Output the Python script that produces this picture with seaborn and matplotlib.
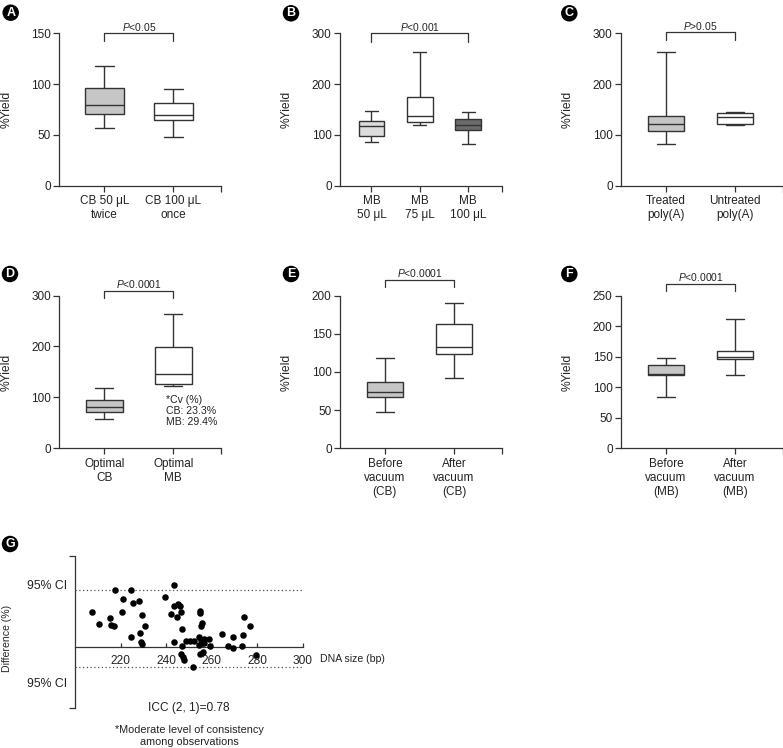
import matplotlib
matplotlib.use("Agg")
import matplotlib.pyplot as plt
import matplotlib.transforms as mtrans
import pandas as pd
import seaborn as sns

# Box data as five-number summaries: min, q1, median, q3, max
a_groups = ["CB 50 μL\ntwice", "CB 100 μL\nonce"]
a_cb50_twice = [56.4, 70.2, 79.4, 96.2, 117.5]
a_cb100_once = [47.6, 64.3, 69.9, 81.1, 94.8]

b_groups = ["MB\n50 μL", "MB\n75 μL", "MB\n100 μL"]
b_mb50 = [86.7, 97.8, 118.0, 128.0, 147.0]
b_mb75 = [119.5, 126.0, 137.9, 175.3, 262.6]
b_mb100 = [81.4, 109.6, 119.5, 130.6, 145.8]

c_groups = ["Treated\npoly(A)", "Untreated\npoly(A)"]
c_treated = [82.0, 108.3, 122.0, 136.5, 262.6]
c_untreated = [119.5, 121.4, 135.9, 143.8, 145.7]

d_groups = ["Optimal\nCB", "Optimal\nMB"]
d_cb = [57.0, 71.4, 80.6, 95.6, 117.9]
d_mb = [121.8, 127.1, 146.7, 199.8, 263.3]

e_groups = ["Before\nvacuum\n(CB)", "After\nvacuum\n(CB)"]
e_before = [47.5, 67.5, 74.1, 87.1, 117.6]
e_after = [91.9, 122.9, 132.9, 163.0, 190.8]

f_groups = ["Before\nvacuum\n(MB)", "After\nvacuum\n(MB)"]
f_before = [83.3, 119.3, 120.9, 135.6, 147.6]
f_after = [119.8, 146.5, 149.8, 159.0, 211.3]

# Panel G: DNA size (bp) vs difference (%)
g_size = [207.6, 210.6, 215.4, 215.8, 217.1, 217.5, 220.4, 221.0, 224.5, 224.5,
          225.5, 228.0, 229.5, 228.6, 228.9, 229.2, 230.9, 239.5, 243.5, 241.9,
          243.6, 245.0, 246.2, 246.4, 244.8, 247.0, 243.5, 247.1, 248.9, 250.6,
          252.0, 246.5, 247.7, 247.3, 251.8, 254.7, 254.7, 255.5, 255.3, 254.4,
          255.3, 256.4, 258.6, 256.7, 255.8, 254.5, 259.3, 254.7, 256.2, 264.4,
          269.3, 267.3, 269.3, 273.2, 273.9, 274.1, 276.8, 279.5]
g_diff = [12.3, 7.9, 10.2, 7.8, 7.3, 19.9, 12.3, 17.0, 19.9, 3.5,
          15.4, 16.0, 11.1, 4.8, 1.7, 1.0, 7.4, 17.5, 21.9, 11.7,
          14.3, 15.0, 14.2, 12.4, 10.6, 6.3, 1.5, 0.35, 2.0, 2.1,
          1.8, -2.7, -4.6, -3.7, -7.4, 12.7, 11.8, 8.3, 7.4, 3.5,
          2.4, 2.6, 2.6, 1.2, 1.2, 0.6, 0.35, -2.7, -1.8, 4.6,
          3.5, 0.35, -0.6, 0.35, 4.1, 10.5, 7.3, -2.9]
g_ci_upper = 20.0
g_ci_lower = -7.2

EDGE = "#333333"
GRAY = "#c6c6c6"

sns.set_style("ticks")
plt.rcParams['font.family'] = ['Liberation Sans', 'DejaVu Sans']
plt.rcParams['mathtext.fontset'] = 'custom'
plt.rcParams['mathtext.it'] = 'Liberation Sans:italic'
plt.rcParams['mathtext.rm'] = 'Liberation Sans'
plt.rcParams['text.color'] = '#222222'


def draw_box_panel(ax, groups, values, colors, ymax, ystep, bracket, ptext, span=None, width=0.53):
    df = pd.DataFrame({
        'group': [g for g, v in zip(groups, values) for _ in v],
        'value': [x for v in values for x in v],
    })
    sns.boxplot(data=df, x='group', y='value', hue='group', order=groups, hue_order=groups,
                palette=colors, whis=(0, 100), width=width, linecolor=EDGE, linewidth=1.0,
                legend=False, ax=ax)
    n = len(groups)
    right = n - 1 + 0.69
    ax.set_xlim(-0.65, right)
    ax.set_ylim(0, ymax)
    ax.set_yticks(range(0, ymax + 1, ystep))
    ax.set_xticks([right], minor=True)
    ax.set_xlabel("")
    ax.set_ylabel("%Yield", fontsize=8.7)
    ax.yaxis.set_label_coords(-0.29, 0.5)
    sns.despine(ax=ax)
    for s in ['left', 'bottom']:
        ax.spines[s].set_color(EDGE)
        ax.spines[s].set_linewidth(0.9)
    ax.tick_params(which='both', direction='out', length=4, width=0.9, color=EDGE,
                   labelsize=8.5, labelcolor='#222222', pad=2)
    ax.tick_params(axis='x', pad=3)
    # significance bracket
    x0, x1 = span if span else (0, n - 1)
    top, leg = bracket
    ax.plot([x0, x0, x1, x1], [leg, top, top, leg], color=EDGE, lw=0.9, clip_on=False)
    ax.annotate(ptext, ((x0 + x1) / 2, top), xytext=(0, 2), textcoords='offset points',
                ha='center', va='baseline', fontsize=7.4, annotation_clip=False)


fig = plt.figure(figsize=(7.83, 7.48), dpi=100)
W, H = 783.0, 748.0


def add_axes(x0, x1, ytop, ybot):
    return fig.add_axes([x0 / W, 1 - ybot / H, (x1 - x0) / W, (ybot - ytop) / H])


axA = add_axes(59.3, 221, 33.3, 185.7)
axB = add_axes(340, 501.7, 33.3, 185.7)
axC = add_axes(621, 782.7, 33.3, 185.7)
axD = add_axes(59.3, 221, 295.5, 448.3)
axE = add_axes(340, 501.7, 295.5, 448.3)
axF = add_axes(621, 782.7, 295.5, 448.3)
axG = add_axes(75, 303, 555.7, 708.3)

draw_box_panel(axA, a_groups, [a_cb50_twice, a_cb100_once], [GRAY, 'white'],
               150, 50, (150, 142.8), "$P$<0.05", width=0.56)
draw_box_panel(axB, b_groups, [b_mb50, b_mb75, b_mb100], ['#dcdcdc', 'white', '#6b6b6b'],
               300, 100, (300, 283.6), "$P$<0.001")
draw_box_panel(axC, c_groups, [c_treated, c_untreated], [GRAY, 'white'],
               300, 100, (302, 287), "$P$>0.05")
draw_box_panel(axD, d_groups, [d_cb, d_mb], [GRAY, 'white'],
               300, 100, (309, 294.7), "$P$<0.0001")
draw_box_panel(axE, e_groups, [e_before, e_after], [GRAY, 'white'],
               200, 50, (220, 211), "$P$<0.0001")
draw_box_panel(axF, f_groups, [f_before, f_after], [GRAY, 'white'],
               250, 50, (269.6, 257.6), "$P$<0.0001")

axD.text(0.66, 0.245, "*Cv (%)\nCB: 23.3%\nMB: 29.4%", transform=axD.transAxes,
         ha='left', va='center', fontsize=7.6, linespacing=1.15)

# Panel G
sns.scatterplot(x=g_size, y=g_diff, color='black', s=22, linewidth=0, ax=axG, zorder=3)
axG.set_xlim(200, 300)
axG.set_ylim(-21.9, 32.2)
axG.axhline(g_ci_upper, ls=(0, (1, 2)), color='#555555', lw=0.9)
axG.axhline(g_ci_lower, ls=(0, (1, 2)), color='#555555', lw=0.9)
axG.spines['bottom'].set_position(('data', 0))
for s in ['top', 'right']:
    axG.spines[s].set_visible(False)
for s in ['left', 'bottom']:
    axG.spines[s].set_color(EDGE)
    axG.spines[s].set_linewidth(0.9)
axG.set_xticks([220, 240, 260, 280, 300])
axG.set_yticks([-21.9, 32.2])
axG.set_yticklabels(['', ''])
axG.tick_params(axis='x', direction='in', length=3, width=0.9, color=EDGE,
                labelsize=8.6, labelcolor='#222222', pad=6)
axG.tick_params(axis='y', direction='out', length=4, width=0.9, color=EDGE)
axG.set_ylabel("Difference (%)", fontsize=7.6)
axG.yaxis.set_label_coords(-0.277, 0.46)
blend = mtrans.blended_transform_factory(axG.transAxes, axG.transData)
axG.text(-0.036, 21.5, "95% CI", transform=blend, ha='right', va='center', fontsize=8.8)
axG.text(-0.036, -13.2, "95% CI", transform=blend, ha='right', va='center', fontsize=8.8)
axG.annotate("DNA size (bp)", (300, 0), xytext=(12, -9), textcoords='offset points',
             ha='left', va='center', fontsize=7.6, annotation_clip=False)
axG.text(0.5, 0.0, "ICC (2, 1)=0.78", transform=axG.transAxes, ha='center', va='center',
         fontsize=8.6)
axG.text(0.5, -0.18, "*Moderate level of consistency\namong observations",
         transform=axG.transAxes, ha='center', va='center', fontsize=7.8, linespacing=1.2)

# panel letters in black circles
for letter, (px, py) in zip("ABCDEFG", [(10.7, 12.7), (291, 13.3), (569.3, 13.3),
                                        (10, 274), (291, 274), (569.3, 274), (10, 544)]):
    fig.text(px / W, 1 - py / H, letter, ha='center', va='center', color='white',
             fontweight='bold', fontsize=9,
             bbox=dict(boxstyle='circle,pad=0.18', fc='black', ec='none'))

fig.savefig("out.png", dpi=100)
